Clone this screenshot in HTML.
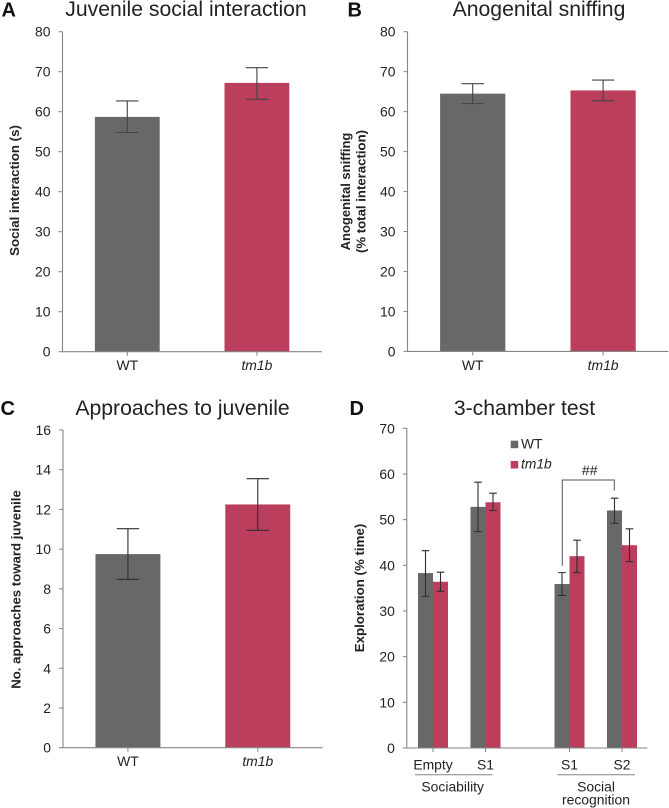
<!DOCTYPE html>
<html lang="en">
<head>
<meta charset="utf-8">
<title>Behavioural test bar charts</title>
<style>
html,body{margin:0;padding:0;background:#fff;}
svg{display:block;font-family:"Liberation Sans",sans-serif;}
text{fill:#222;}
</style>
</head>
<body>
<svg id="figure" xmlns="http://www.w3.org/2000/svg" width="669" height="808" viewBox="0 0 669 808">
  <rect width="669" height="808" fill="#fff"/>
  <g font-size="20" font-weight="bold">
    <text x="1.5" y="16.5" style="fill:#111">A</text>
    <text x="347.5" y="16.5" style="fill:#111">B</text>
    <text x="0.5" y="415" style="fill:#111">C</text>
    <text x="349.5" y="415" style="fill:#111">D</text>
  </g>
  <g font-size="21.2" text-anchor="middle">
    <text x="186" y="16">Juvenile social interaction</text>
    <text x="539" y="16">Anogenital sniffing</text>
    <text x="182.5" y="415">Approaches to juvenile</text>
    <text x="524.5" y="415">3-chamber test</text>
  </g>
  <g font-weight="bold" text-anchor="middle">
    <text font-size="13.3" transform="translate(19 190.5) rotate(-90)">Social interaction (s)</text>
    <text font-size="13" transform="translate(350 191.5) rotate(-90)">Anogenital sniffing</text>
    <text font-size="13.2" transform="translate(365.5 191.5) rotate(-90)">(% total interaction)</text>
    <text font-size="13.2" transform="translate(20.5 589.5) rotate(-90)">No. approaches toward juvenile</text>
    <text font-size="13.3" transform="translate(364 588) rotate(-90)">Exploration (% time)</text>
  </g>
  <g id="panel-a"></g>
  <g id="panel-b"></g>
  <g id="panel-c"></g>
  <g id="panel-d"></g>
  <g font-size="13.8">
    <rect x="510.7" y="440.7" width="7.5" height="7.5" fill="#686868"/>
    <text x="521" y="448.7">WT</text>
    <rect x="510.7" y="461" width="7.5" height="7.5" fill="#bb3f5c"/>
    <text x="521" y="468.7" font-style="italic">tm1b</text>
  </g>
  <g>
    <path d="M562.3 565.7V480H614.3V490.7" fill="none" stroke="#555" stroke-width="1"/>
    <text x="589.7" y="475" font-size="14" text-anchor="middle">##</text>
  </g>
  <g font-size="13.9" text-anchor="middle">
    <line x1="415" x2="492.3" y1="774.7" y2="774.7" stroke="#868686"/>
    <line x1="557.3" x2="635" y1="774.7" y2="774.7" stroke="#868686"/>
    <text x="452.7" y="791.7">Sociability</text>
    <text x="596" y="791.7">Social</text>
    <text x="596" y="804.3">recognition</text>
  </g>
</svg>
<script>
const genotypes = ['WT', 'tm1b'];
const ticksA = [0, 10, 20, 30, 40, 50, 60, 70, 80];
const meansA = [58.7, 67.2];
const upperA = [62.7, 71];
const lowerA = [54.8, 63.1];
const ticksB = [0, 10, 20, 30, 40, 50, 60, 70, 80];
const meansB = [64.5, 65.3];
const upperB = [67, 67.9];
const lowerB = [62, 62.7];
const ticksC = [0, 2, 4, 6, 8, 10, 12, 14, 16];
const meansC = [9.75, 12.25];
const upperC = [11.03, 13.55];
const lowerC = [8.48, 10.95];
const ticksD = [0, 10, 20, 30, 40, 50, 60, 70];
const categoriesD = ['Empty', 'S1', 'S1', 'S2'];
const meansDWT = [38.3, 52.8, 35.9, 52];
const upperDWT = [43.2, 58.2, 38.4, 54.7];
const lowerDWT = [33.2, 47.4, 33.4, 49.2];
const meansDTm1b = [36.4, 53.8, 42, 44.4];
const upperDTm1b = [38.5, 55.8, 45.5, 48];
const lowerDTm1b = [34.3, 52, 38.4, 40.8];

const NS = 'http://www.w3.org/2000/svg';
const GREY = '#686868';
const RED = '#bb3f5c';
const AXIS = '#868686';
const LABEL_SIZE = 13.9;

function make(parent, tag, attrs, content) {
  const el = document.createElementNS(NS, tag);
  for (const k in attrs) el.setAttribute(k, attrs[k]);
  if (content !== undefined) el.textContent = content;
  parent.appendChild(el);
  return el;
}

function drawYAxis(g, box, ticks, y) {
  const axis = make(g, 'path', {d: 'M' + box.x0 + ' ' + box.top + 'V' + box.base + 'H' + box.x1, fill: 'none', stroke: AXIS, 'stroke-width': 1.1});
  
  
  ticks.forEach(function (t) {
    const mark = make(g, 'line', {x1: box.x0 - 4, x2: box.x0, y1: y(t), y2: y(t), stroke: AXIS, 'stroke-width': 1});
    
    
    const label = make(g, 'text', {x: box.x0 - 12, y: y(t) + 5, 'font-size': LABEL_SIZE, 'text-anchor': 'end'}, String(t));
    
    
  });
}

function drawXTick(g, box, x) {
  const mark = make(g, 'line', {x1: x, x2: x, y1: box.base, y2: box.base + 4, stroke: AXIS, 'stroke-width': 1});
  
  
}

function drawBar(g, left, width, value, color, y, base) {
  const bar = make(g, 'rect', {x: left, y: y(value), width: width, height: base - y(value), fill: color});
  
  
}

function drawError(g, x, high, low, capHalf, y, color) {
  const path = 'M' + x + ' ' + y(high) + 'V' + y(low) + 'M' + (x - capHalf) + ' ' + y(high) + 'H' + (x + capHalf) + 'M' + (x - capHalf) + ' ' + y(low) + 'H' + (x + capHalf);
  const err = make(g, 'path', {d: path, fill: 'none', stroke: color, 'stroke-width': 1.1});
  
  
}

function drawSimplePanel(id, box, ticks, means, upper, lower, errColor) {
  const g = document.getElementById(id);
  const max = ticks[ticks.length - 1];
  const y = function (v) { return box.base - (box.base - box.top) * v / max; };
  const step = (box.x1 - box.x0) / genotypes.length;
  const barW = step / 2;
  genotypes.forEach(function (name, i) {
    const cx = box.x0 + step * (i + 0.5);
    drawBar(g, cx - barW / 2, barW, means[i], i === 0 ? GREY : RED, y, box.base);
    drawError(g, cx, upper[i], lower[i], 11.2, y, errColor);
  });
  drawYAxis(g, box, ticks, y);
  genotypes.forEach(function (name, i) {
    const cx = box.x0 + step * (i + 0.5);
    drawXTick(g, box, cx);
    const label = make(g, 'text', {x: cx, y: box.base + 18.5, 'font-size': LABEL_SIZE, 'text-anchor': 'middle', 'font-style': i === 0 ? 'normal' : 'italic'}, name);
    
    
  });
}

function drawGroupedPanel(id, box) {
  const g = document.getElementById(id);
  const max = ticksD[ticksD.length - 1];
  const y = function (v) { return box.base - (box.base - box.top) * v / max; };
  const step = 52.5;
  const sectionGap = 31.5;
  const barW = 15;
  const first = box.x0 + 26.2;
  const cx = function (i) { return first + i * step + (i >= 2 ? sectionGap : 0); };
  categoriesD.forEach(function (name, i) {
    const c = cx(i);
    drawBar(g, c - barW, barW, meansDWT[i], GREY, y, box.base);
    drawBar(g, c, barW, meansDTm1b[i], RED, y, box.base);
    drawError(g, c - barW / 2, upperDWT[i], lowerDWT[i], 3.8, y, '#2e2e2e');
    drawError(g, c + barW / 2, upperDTm1b[i], lowerDTm1b[i], 3.8, y, '#2e2e2e');
  });
  drawYAxis(g, box, ticksD, y);
  categoriesD.forEach(function (name, i) {
    drawXTick(g, box, cx(i));
    const label = make(g, 'text', {x: cx(i), y: 769.3, 'font-size': LABEL_SIZE, 'text-anchor': 'middle'}, name);
    
    
  });
}

drawSimplePanel('panel-a', {x0: 62.5, x1: 321.7, top: 31.7, base: 351.7}, ticksA, meansA, upperA, lowerA, '#444');
drawSimplePanel('panel-b', {x0: 407.5, x1: 668.3, top: 31.7, base: 351.4}, ticksB, meansB, upperB, lowerB, '#444');
drawSimplePanel('panel-c', {x0: 63, x1: 322.7, top: 430, base: 747.7}, ticksC, meansC, upperC, lowerC, '#2e2e2e');
drawGroupedPanel('panel-d', {x0: 406.8, x1: 647.3, top: 428.3, base: 748});
</script>
</body>
</html>
